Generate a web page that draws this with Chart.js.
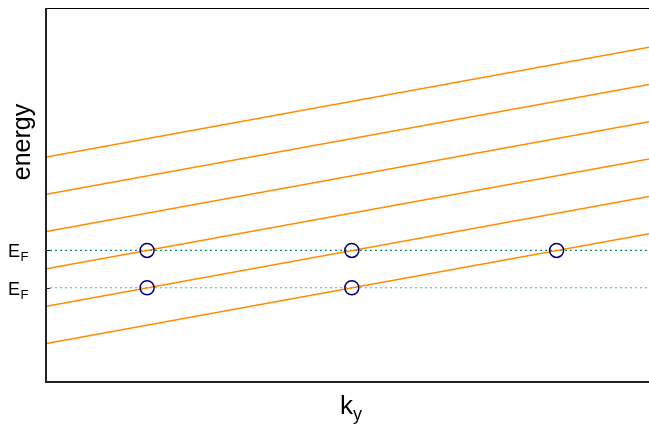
<!DOCTYPE html>
<html>
<head>
<meta charset="utf-8">
<script src="https://cdn.jsdelivr.net/npm/chart.js@4/dist/chart.umd.min.js"></script>
<style>
  html, body { margin: 0; padding: 0; background: #fff; }
  #wrap { width: 649px; height: 425px; position: relative; }
</style>
</head>
<body>
<div id="wrap"><canvas id="c" width="649" height="425"></canvas></div>
<script>
// Band energies at the two ends of the k_y range (k_y = 0 and k_y = 1)
const kRange = [0, 1];
const bandStart = [1, 2, 3, 4, 5, 6];
const bandEnd = [3.95, 4.95, 5.95, 6.95, 7.95, 8.95];

// Fermi levels
const fermiLevels = [3.5, 2.5];
const fermiLabels = ['E', 'E'];
const fermiSub = ['F', 'F'];
const fermiColors = ['#108a70', '#40b8a0'];

// Crossings of bands with the Fermi levels
const crossK = [0.169, 0.169, 0.508, 0.508, 0.847];
const crossE = [3.5, 2.5, 3.5, 2.5, 3.5];

const xTitle = 'k', xTitleSub = 'y';
const yTitle = 'energy';

const FONT = '"Liberation Sans", Arial, sans-serif';

const datasets = [];
bandStart.forEach((e0, i) => {
  datasets.push({
    data: [{ x: kRange[0], y: e0 }, { x: kRange[1], y: bandEnd[i] }],
    borderColor: '#ff8c00', borderWidth: 1.5, pointRadius: 0, order: 2
  });
});
fermiLevels.forEach((ef, i) => {
  datasets.push({
    data: [{ x: kRange[0], y: ef }, { x: kRange[1], y: ef }],
    borderColor: fermiColors[i], borderWidth: 1.2, borderDash: [2, 3],
    pointRadius: 0, order: 3
  });
});
datasets.push({
  data: crossK.map((k, i) => ({ x: k, y: crossE[i] })),
  showLine: false, pointRadius: 7, pointBorderColor: '#000080',
  pointBackgroundColor: 'rgba(0,0,0,0)', pointBorderWidth: 1.5, order: 1
});

const decor = {
  id: 'decor',
  afterDraw(chart) {
    const { ctx, chartArea: a, scales: { y } } = chart;
    ctx.save();
    // frame
    ctx.strokeStyle = '#000';
    ctx.lineWidth = 1;
    ctx.beginPath(); ctx.moveTo(a.left, a.top + 0.5); ctx.lineTo(a.right, a.top + 0.5); ctx.stroke();
    ctx.strokeStyle = '#222';
    ctx.lineWidth = 2;
    ctx.beginPath(); ctx.moveTo(a.left + 1, a.top); ctx.lineTo(a.left + 1, a.bottom + 1); ctx.lineTo(a.right, a.bottom + 1); ctx.stroke();

    // Fermi level ticks and labels
    fermiLevels.forEach((ef, i) => {
      const py = Math.round(y.getPixelForValue(ef)) + 0.5;
      ctx.strokeStyle = '#222'; ctx.lineWidth = 1;
      ctx.beginPath(); ctx.moveTo(a.left, py); ctx.lineTo(a.left + 5, py); ctx.stroke();
      ctx.fillStyle = '#000';
      ctx.textBaseline = 'alphabetic';
      ctx.textAlign = 'left';
      ctx.font = '18px ' + FONT;
      ctx.fillText(fermiLabels[i], 8, py + 6);
      const w = ctx.measureText(fermiLabels[i]).width;
      ctx.font = '13px ' + FONT;
      ctx.fillText(fermiSub[i], 8 + w + 0.5, py + 10);
    });

    // x axis title with subscript
    ctx.font = '26px ' + FONT;
    const wk = ctx.measureText(xTitle).width;
    ctx.font = '18px ' + FONT;
    const ws = ctx.measureText(xTitleSub).width;
    const cx = (a.left + a.right) / 2 + 4 - (wk + ws) / 2;
    ctx.font = '26px ' + FONT;
    ctx.fillText(xTitle, cx, 414);
    ctx.font = '18px ' + FONT;
    ctx.fillText(xTitleSub, cx + wk, 420);

    // y axis title
    ctx.translate(30, 142);
    ctx.rotate(-Math.PI / 2);
    ctx.textAlign = 'center';
    ctx.font = '25px ' + FONT;
    ctx.fillText(yTitle, 0, 0);
    ctx.restore();
  }
};

new Chart(document.getElementById('c'), {
  type: 'line',
  data: { datasets },
  options: {
    responsive: false,
    animation: false,
    layout: { autoPadding: false, padding: { left: 45, top: 8, right: 0, bottom: 44 } },
    plugins: { legend: { display: false }, tooltip: { enabled: false } },
    scales: {
      x: { type: 'linear', min: 0, max: 1, display: false },
      y: { type: 'linear', min: 0, max: 10, display: false }
    }
  },
  plugins: [decor]
});
</script>
</body>
</html>
